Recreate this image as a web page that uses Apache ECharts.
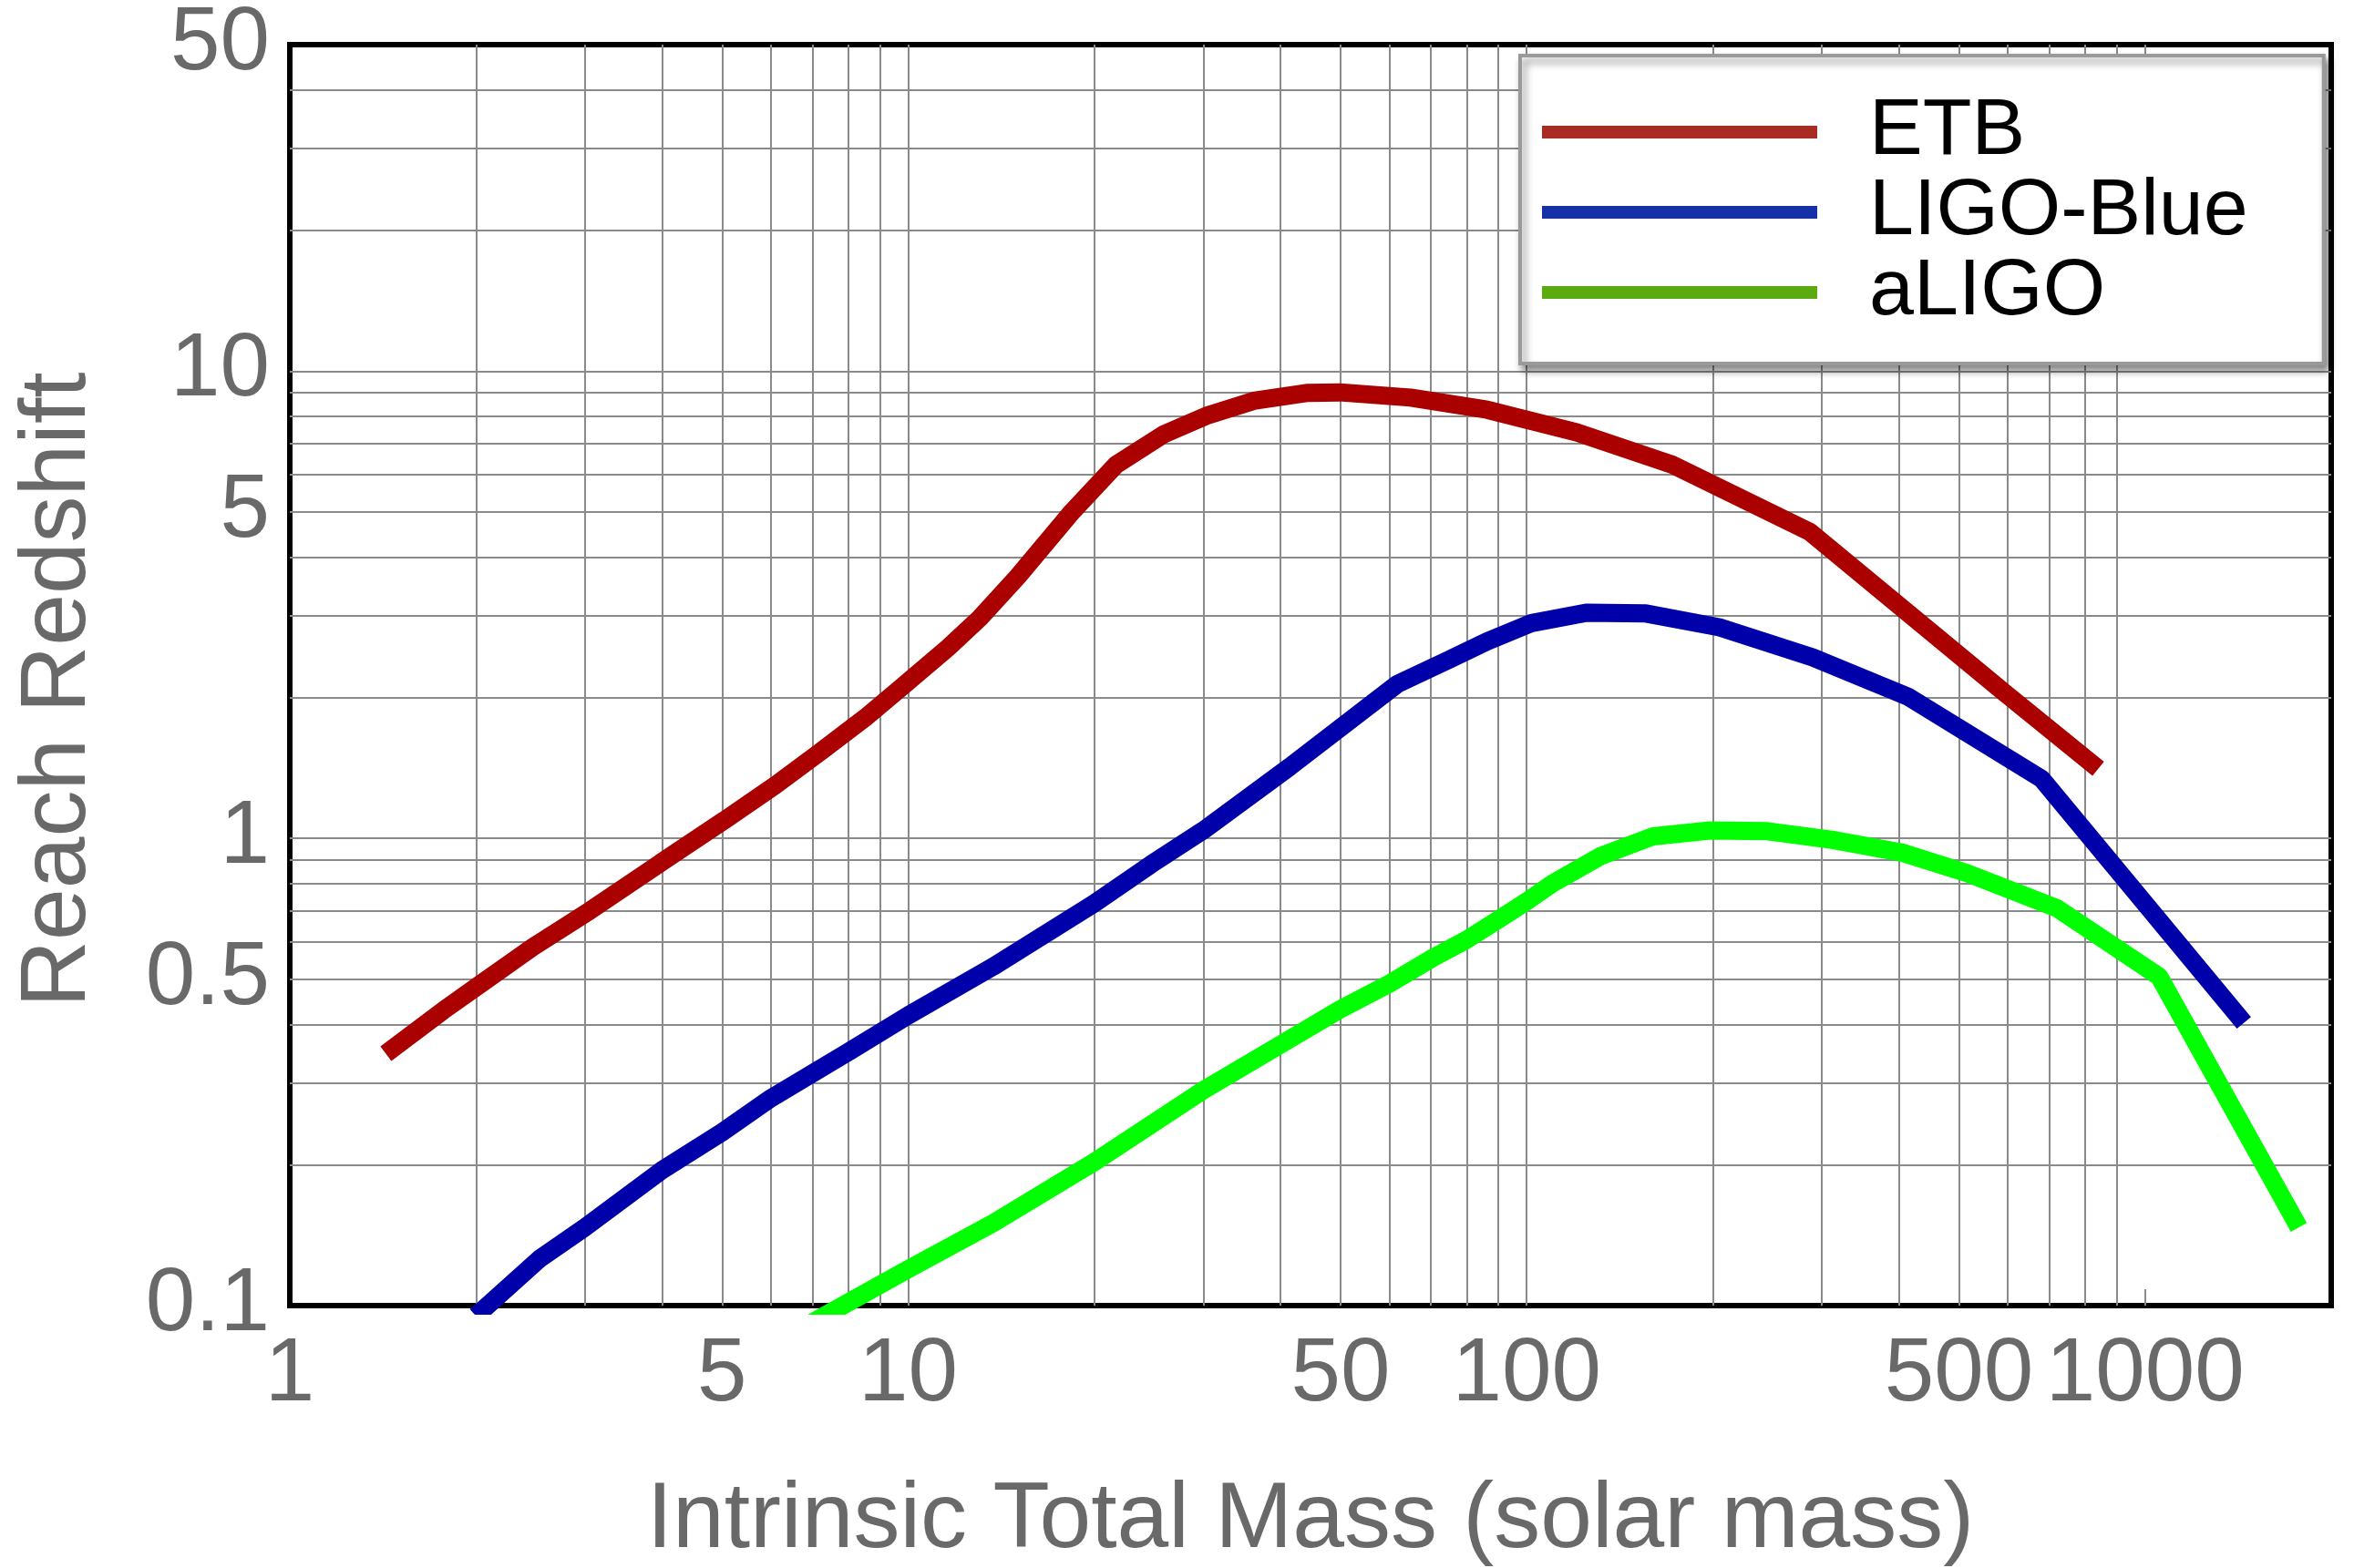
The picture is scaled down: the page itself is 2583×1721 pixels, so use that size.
<!DOCTYPE html>
<html>
<head>
<meta charset="utf-8">
<script src="https://cdn.jsdelivr.net/npm/echarts@6/dist/echarts.min.js"></script>
<style>
  html, body { margin: 0; padding: 0; background: #ffffff; }
  #chart { width: 2583px; height: 1721px; }
</style>
</head>
<body>
<div id="chart"></div>
<script>
// Reach redshift vs. intrinsic total mass for three detector configurations
const etbMass = [1.43, 1.77, 2.04, 2.47, 3.06, 3.97, 5.04, 6.10, 7.20, 8.51, 9.81, 11.6, 13.05, 15.05, 18.4, 21.7, 25.9, 30.3, 36.2, 44.3, 49.9, 64.9, 86.3, 120.4, 172, 287, 590, 840];
const etbReach = [0.346, 0.428, 0.489, 0.585, 0.701, 0.885, 1.093, 1.30, 1.53, 1.81, 2.12, 2.56, 2.96, 3.64, 5.0, 6.31, 7.33, 8.02, 8.64, 8.99, 9.01, 8.78, 8.27, 7.40, 6.31, 4.53, 2.06, 1.41];

const blueMass = [2.0, 2.53, 3, 4, 5, 6, 8, 10, 13.7, 20, 24.7, 30, 41.3, 61.8, 74.8, 86.3, 101.9, 124.7, 156, 205, 290, 414, 681, 1445];
const blueReach = [0.095, 0.1257, 0.147, 0.195, 0.235, 0.278, 0.349, 0.418, 0.531, 0.726, 0.88, 1.04, 1.42, 2.14, 2.41, 2.64, 2.89, 3.04, 3.03, 2.83, 2.44, 2.01, 1.34, 0.403];

const aligoMass = [7.0, 10, 13.7, 20, 30, 40, 50, 60, 70, 80, 90, 100, 110, 132, 160, 198, 245, 311, 405, 515, 720, 1054, 1773];
const aligoReach = [0.092, 0.1197, 0.150, 0.203, 0.289, 0.362, 0.431, 0.489, 0.552, 0.607, 0.67, 0.733, 0.80, 0.918, 1.01, 1.04, 1.036, 0.994, 0.932, 0.843, 0.709, 0.506, 0.147];

// Labelled ticks
const xLabelValues = [1, 5, 10, 50, 100, 500, 1000];
const yLabelValues = [0.1, 0.5, 1, 5, 10, 50];

// Grid lines (every 1..9 step of each decade)
const xGridValues = [2, 3, 4, 5, 6, 7, 8, 9, 10, 20, 30, 40, 50, 60, 70, 80, 90, 100, 200, 300, 400, 500, 600, 700, 800, 900];
const yGridValues = [0.2, 0.3, 0.4, 0.5, 0.6, 0.7, 0.8, 0.9, 1, 2, 3, 4, 5, 6, 7, 8, 9, 10, 20, 30, 40];

const pairs = (xs, ys) => xs.map((x, i) => [x, ys[i]]);
const fmt = v => String(+(+v).toPrecision(3));

const font = "'Liberation Sans', Arial, Helvetica, sans-serif";
const labelGray = '#696969';
const gridGray = '#8a8a8a';
const curveWidth = 20;

const chart = echarts.init(document.getElementById('chart'), null, { renderer: 'canvas' });

chart.setOption({
  animation: false,
  backgroundColor: '#ffffff',
  grid: {
    left: 318, top: 49, width: 2240, height: 1384,
    show: true, borderColor: '#000000', borderWidth: 6,
    backgroundColor: 'transparent',
    containLabel: false, outerBoundsMode: 'none'
  },
  legend: {
    orient: 'vertical',
    left: 1668, top: 61,
    padding: [40, 83, 34, 24],
    itemGap: 0,
    itemWidth: 302, itemHeight: 14,
    icon: 'rect',
    backgroundColor: '#ffffff',
    borderColor: '#9a9a9a', borderWidth: 4, borderRadius: 0,
    shadowColor: 'rgba(0,0,0,0.45)', shadowBlur: 8, shadowOffsetX: 4, shadowOffsetY: 6,
    textStyle: { fontSize: 88, color: '#000000', fontFamily: font, lineHeight: 86, padding: [0, 0, 0, 52] },
    data: [
      { name: 'ETB', itemStyle: { color: '#A82C24' } },
      { name: 'LIGO-Blue', itemStyle: { color: '#1630A8' } },
      { name: 'aLIGO', itemStyle: { color: '#5AAA10' } }
    ]
  },
  xAxis: [
    {
      type: 'log', logBase: 10, min: 1, max: 2000,
      name: 'Intrinsic Total Mass (solar mass)',
      nameLocation: 'middle', nameGap: 186,
      nameTextStyle: { fontSize: 102, color: labelGray, fontFamily: font },
      axisLine: { show: false },
      axisTick: { show: true, inside: true, length: 18, customValues: [1000], lineStyle: { color: gridGray, width: 2 } },
      splitLine: { show: false },
      axisLabel: { customValues: xLabelValues, fontSize: 98, color: labelGray, fontFamily: font, margin: 28, formatter: fmt }
    },
    {
      type: 'log', logBase: 10, min: 1, max: 2000, position: 'top',
      axisLine: { show: false },
      axisTick: { show: true, inside: true, length: 18, customValues: [1000], lineStyle: { color: gridGray, width: 2 } },
      splitLine: { show: false },
      axisLabel: { show: false }
    }
  ],
  yAxis: [
    {
      type: 'log', logBase: 10, min: 0.1, max: 50,
      name: 'Reach Redshift',
      nameLocation: 'middle', nameGap: 202,
      nameTextStyle: { fontSize: 102, color: labelGray, fontFamily: font, padding: [0, 32, 0, 0] },
      axisLine: { show: false },
      axisTick: { show: false },
      splitLine: { show: false },
      axisLabel: { customValues: yLabelValues, fontSize: 98, color: labelGray, fontFamily: font, margin: 22, formatter: fmt }
    }
  ],
  series: [
    {
      // grid lines drawn through the axes' own scales
      type: 'line', data: [], silent: true, z: 1,
      markLine: {
        silent: true, z: 1, animation: false,
        symbol: ['none', 'none'],
        label: { show: false },
        emphasis: { disabled: true },
        lineStyle: { color: gridGray, width: 2, type: 'solid' },
        data: xGridValues.map(v => ({ xAxis: v })).concat(yGridValues.map(v => ({ yAxis: v })))
      }
    },
    {
      name: 'ETB', type: 'line', z: 10, showSymbol: false, symbol: 'none', clip: true,
      lineStyle: { color: '#AA0000', width: curveWidth, cap: 'butt' },
      itemStyle: { color: '#AA0000' },
      data: pairs(etbMass, etbReach)
    },
    {
      name: 'LIGO-Blue', type: 'line', z: 10, showSymbol: false, symbol: 'none', clip: true,
      lineStyle: { color: '#0000AA', width: curveWidth, cap: 'butt' },
      itemStyle: { color: '#0000AA' },
      data: pairs(blueMass, blueReach)
    },
    {
      name: 'aLIGO', type: 'line', z: 10, showSymbol: false, symbol: 'none', clip: true,
      lineStyle: { color: '#00FF00', width: curveWidth, cap: 'butt' },
      itemStyle: { color: '#00FF00' },
      data: pairs(aligoMass, aligoReach)
    }
  ]
});
</script>
</body>
</html>
